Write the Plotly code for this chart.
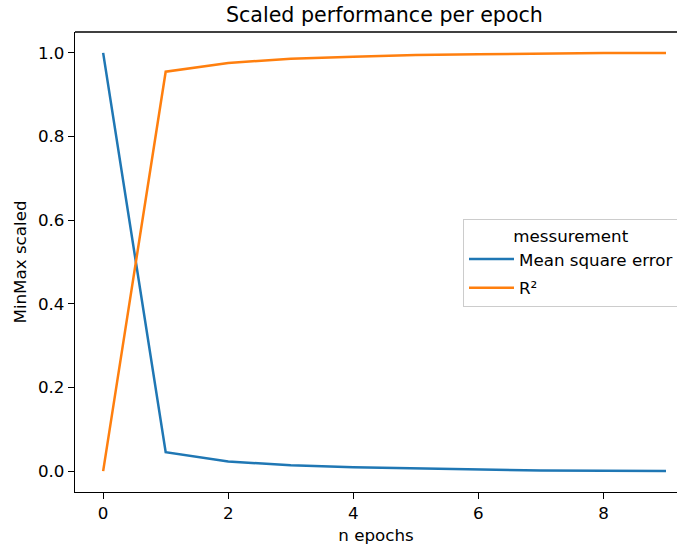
import plotly.graph_objects as go

epochs = [0, 1, 2, 3, 4, 5, 6, 7, 8, 9]
mse_scaled = [1.0, 0.045, 0.023, 0.014, 0.009, 0.006, 0.004, 0.0015, 0.0007, 0.0]
r2_scaled = [0.0, 0.955, 0.976, 0.986, 0.991, 0.995, 0.997, 0.999, 0.9995, 1.0]
series_names = ["Mean square error", "R²"]
legend_title = "messurement"
x_ticks = [0, 2, 4, 6, 8]
y_ticks = [0.0, 0.2, 0.4, 0.6, 0.8, 1.0]

font = "DejaVu Sans"
fs = 16.7
fig = go.Figure()
fig.add_trace(go.Scatter(x=epochs, y=mse_scaled, mode="lines", name=series_names[0],
                         legendgroup="a", line=dict(color="#1f77b4", width=2.5)))
fig.add_trace(go.Scatter(x=epochs, y=r2_scaled, mode="lines", name=series_names[1],
                         legendgroup="b", line=dict(color="#ff7f0e", width=2.5)))

fig.update_layout(
    width=677, height=546,
    margin=dict(l=75, r=0, t=32, b=54, autoexpand=False),
    paper_bgcolor="white", plot_bgcolor="white",
    font=dict(family=font, size=fs, color="black"),
    title=dict(text="Scaled performance per epoch", x=0.514, xref="paper", xanchor="center",
               y=1 - 15 / 546, yref="container", yanchor="middle", font=dict(size=20.6, family=font)),
    legend=dict(x=(463 - 75) / 602, y=(492 - 219) / 460, xanchor="left", yanchor="top",
                bordercolor="#cccccc", borderwidth=1, bgcolor="white",
                font=dict(size=fs, family=font), itemwidth=45,
                title=dict(text=legend_title, side="top center", font=dict(size=fs, family=font)),
                tracegroupgap=4),
    showlegend=True,
    shapes=[dict(type="line", xref="paper", yref="paper", x0=0, x1=1, y0=1, y1=1,
                 line=dict(color="black", width=1.3))],
)
fig.update_xaxes(range=[-0.45, 9.176], tickvals=x_ticks, ticktext=[str(v) for v in x_ticks],
                 showgrid=False, zeroline=False, showline=True, linecolor="black", linewidth=1.3,
                 ticks="outside", ticklen=6, tickwidth=1.3, tickcolor="black",
                 title=dict(text="n epochs", standoff=7, font=dict(size=fs)))
fig.update_yaxes(range=[-0.05, 1.05], tickvals=y_ticks, ticktext=[f"{v:.1f}" for v in y_ticks],
                 showgrid=False, zeroline=False, showline=True, linecolor="black", linewidth=1.3,
                 ticks="outside", ticklen=6, tickwidth=1.3, tickcolor="black",
                 title=dict(text="MinMax scaled", standoff=7, font=dict(size=fs)))

fig.write_html("out.html", config={"displayModeBar": False},
               post_script="document.body.style.margin='0';")
